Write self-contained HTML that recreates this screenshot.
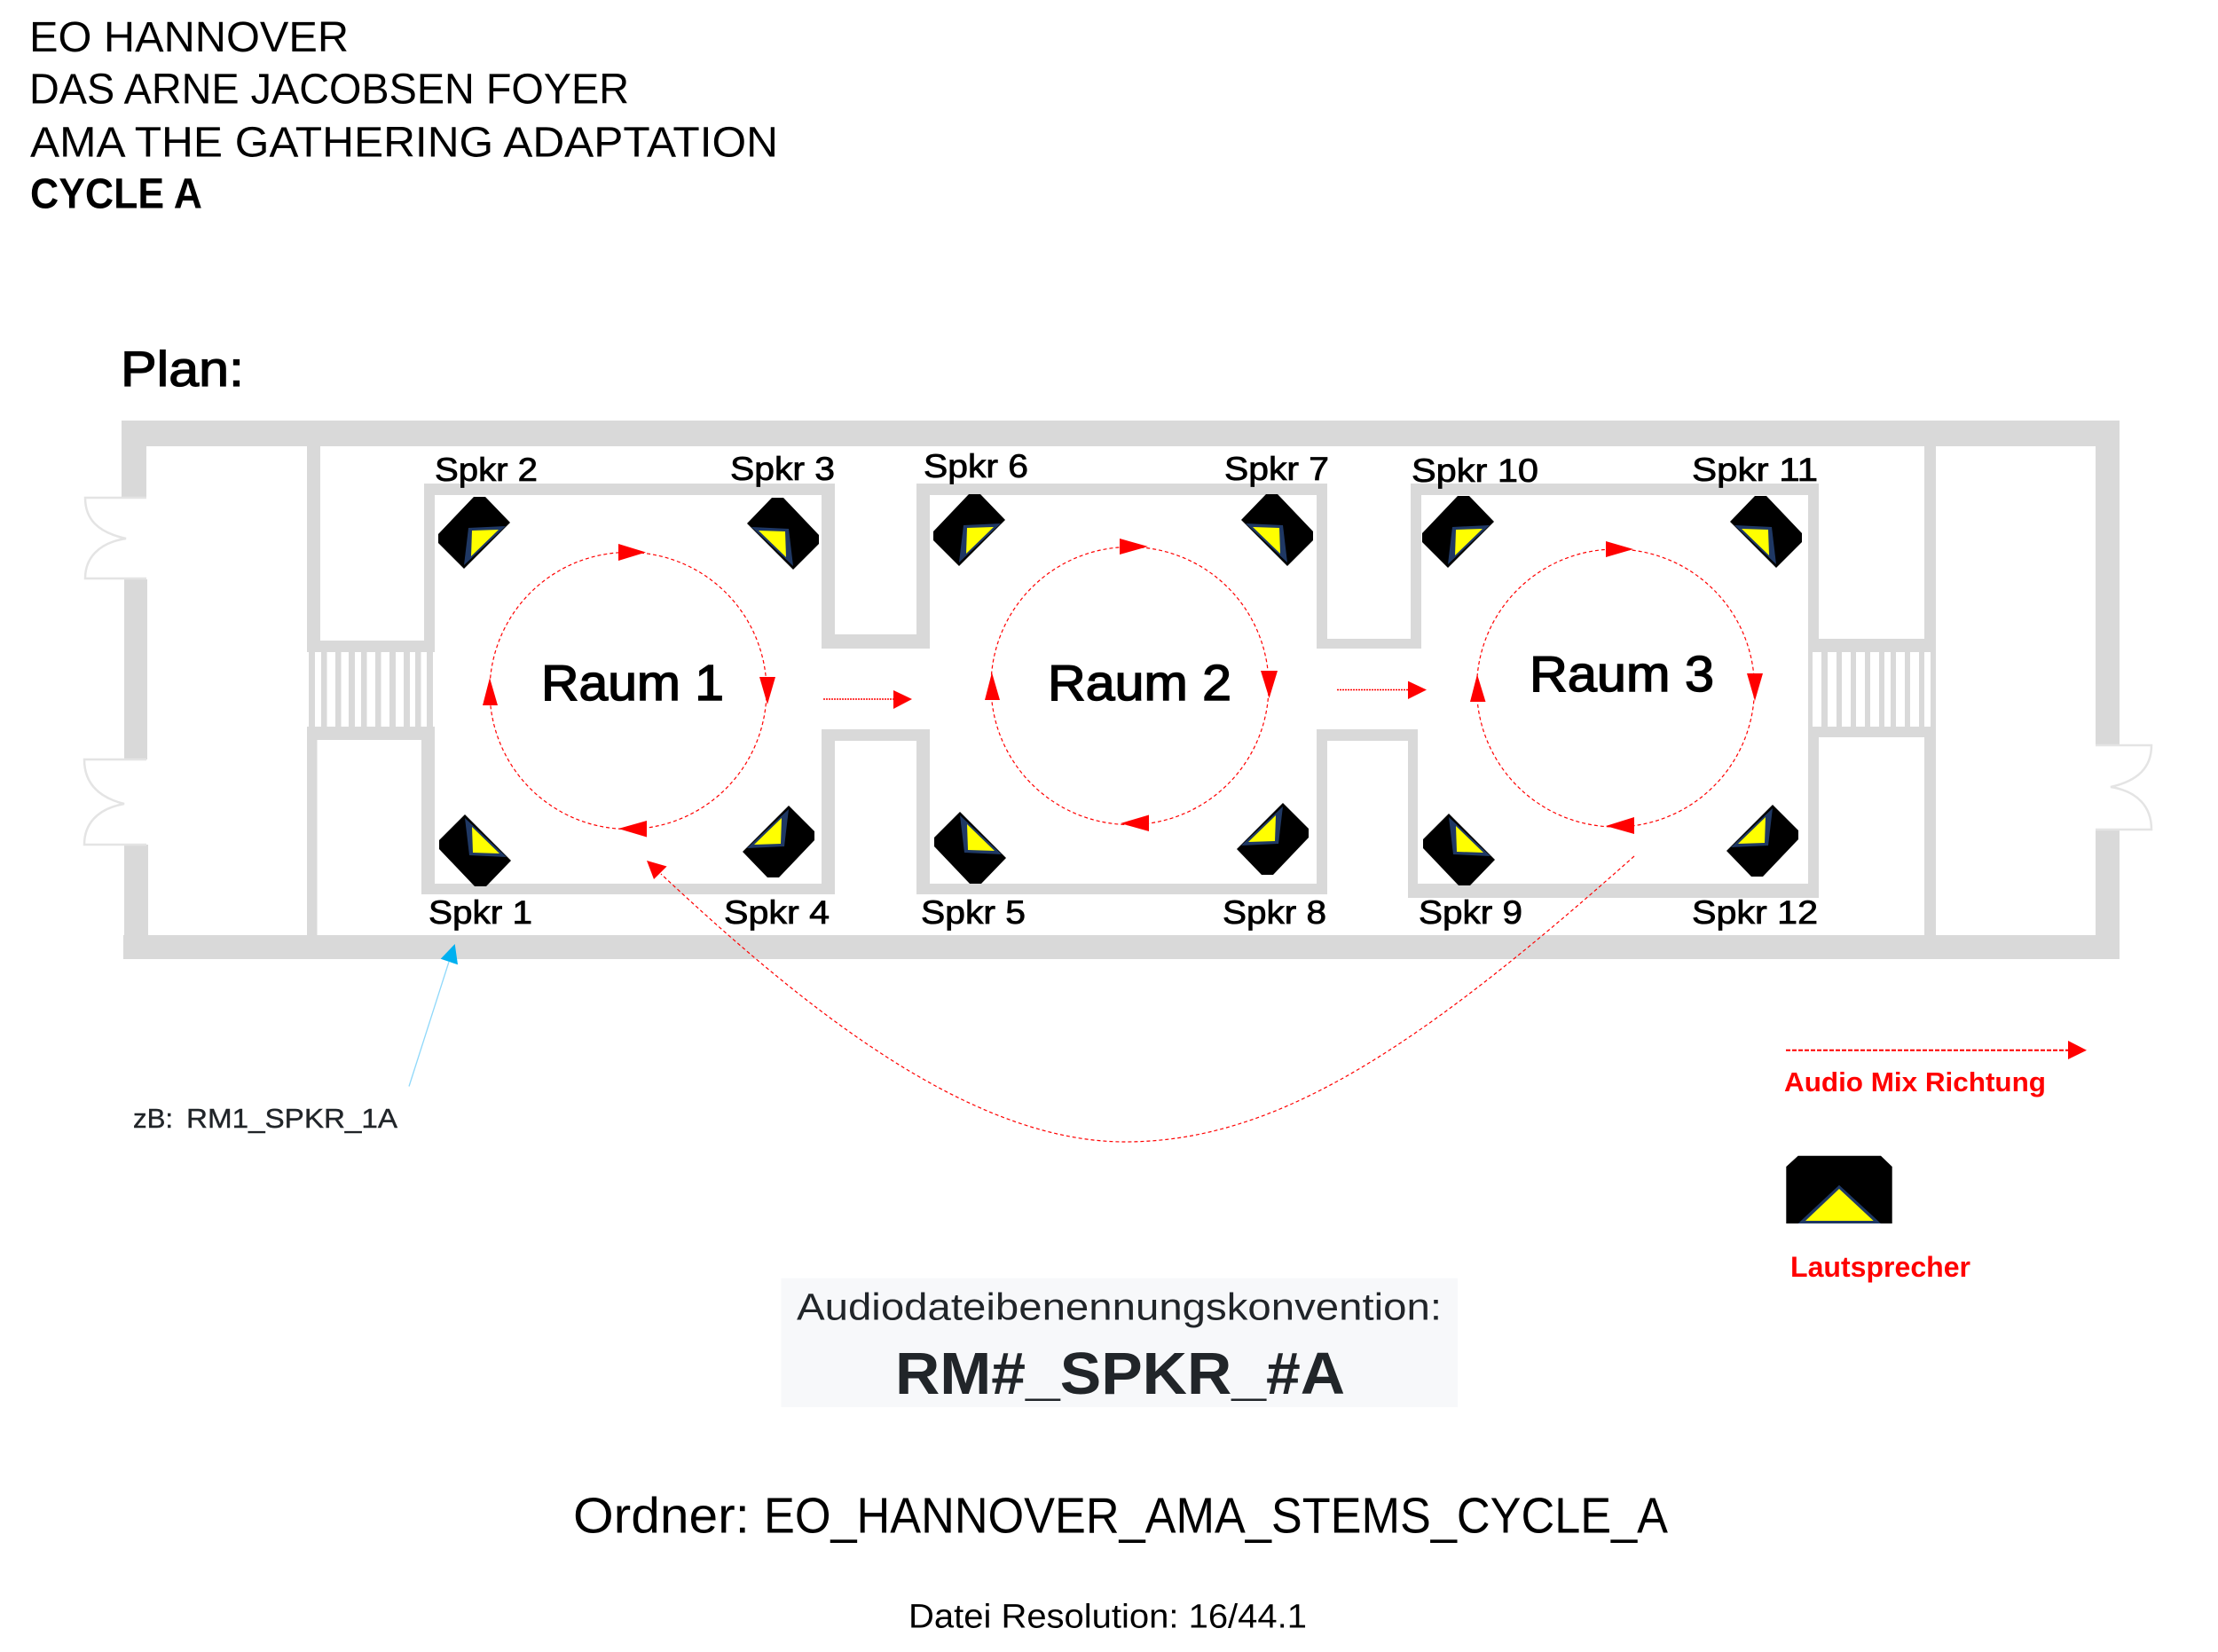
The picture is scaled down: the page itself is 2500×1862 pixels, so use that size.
<!DOCTYPE html>
<html lang="de">
<head>
<meta charset="utf-8">
<title>EO Hannover Plan</title>
<style>
html,body{margin:0;padding:0;background:#fff;width:2500px;height:1862px;overflow:hidden}
svg{display:block}
text{font-family:"Liberation Sans",sans-serif;white-space:pre}
.l{font-size:37px;fill:#000;stroke:#000;stroke-width:.8}
.r{font-size:57px;fill:#000;stroke:#000;stroke-width:1.5}
.h{font-size:48px;fill:#000}
.d{fill:none;stroke:#f00;stroke-width:1.2;stroke-dasharray:4 3}
.door{fill:none;stroke:#e4e4e4;stroke-width:2.5}
</style>
</head>
<body>
<svg width="2500" height="1862" viewBox="0 0 2500 1862" xmlns="http://www.w3.org/2000/svg">
<defs>
<g id="s">
<polygon points="40,0 53,0 81,29 29,81 0,52 0,42" fill="#000"/>
<polygon points="34,35 76,33 29,77" fill="#1f3864"/>
<polygon points="38,38 68,37 37,67" fill="#ff0"/>
</g>
</defs>

<text class="h" x="33" y="58" textLength="360" lengthAdjust="spacingAndGlyphs">EO HANNOVER</text>
<text class="h" x="33" y="116.5" textLength="676" lengthAdjust="spacingAndGlyphs">DAS ARNE JACOBSEN FOYER</text>
<text class="h" x="34" y="176.5" textLength="843" lengthAdjust="spacingAndGlyphs">AMA THE GATHERING ADAPTATION</text>
<text class="h" x="34" y="234.5" textLength="194" lengthAdjust="spacingAndGlyphs" font-weight="bold">CYCLE A</text>
<text x="136" y="435" font-size="56" textLength="139" lengthAdjust="spacingAndGlyphs" stroke="#000" stroke-width="1.3">Plan:</text>

<!-- walls -->
<g fill="#d9d9d9">
<rect x="137" y="474" width="2252" height="29"/>
<rect x="139" y="1054" width="2250" height="27"/>
<rect x="137" y="474" width="28" height="88"/>
<rect x="140" y="653" width="26" height="203"/>
<rect x="140" y="952" width="27" height="129"/>
<rect x="2362" y="474" width="27" height="365"/>
<rect x="2362" y="935" width="27" height="146"/>
<!-- left foyer wall + stairs -->
<rect x="346" y="503" width="15" height="232"/>
<rect x="346" y="722" width="144" height="13"/>
<rect x="346" y="819" width="144" height="15"/>
<rect x="346" y="834" width="11.5" height="220"/>
<rect x="348" y="735" width="7" height="84"/><rect x="362" y="735" width="6.5" height="84"/><rect x="378" y="735" width="6.5" height="84"/><rect x="393" y="735" width="7" height="84"/><rect x="407" y="735" width="6.5" height="84"/><rect x="423" y="735" width="6.5" height="84"/><rect x="439" y="735" width="7" height="84"/><rect x="455" y="735" width="7" height="84"/><rect x="468" y="735" width="6.5" height="84"/><rect x="481" y="735" width="7" height="84"/>
<!-- room 1 -->
<rect x="478" y="545" width="463" height="13"/>
<rect x="478" y="545" width="12" height="190"/>
<rect x="475" y="819" width="15" height="189"/>
<rect x="475" y="996" width="466" height="12"/>
<rect x="926" y="545" width="15" height="186"/>
<rect x="926" y="822" width="15" height="186"/>
<rect x="926" y="715" width="122" height="16"/>
<rect x="926" y="822" width="122" height="13"/>
<!-- room 2 -->
<rect x="1033" y="545" width="15" height="186"/>
<rect x="1033" y="822" width="15" height="186"/>
<rect x="1033" y="545" width="463" height="13"/>
<rect x="1033" y="996" width="463" height="12"/>
<rect x="1484" y="545" width="12" height="186"/>
<rect x="1484" y="822" width="12" height="186"/>
<rect x="1484" y="720" width="118" height="11"/>
<rect x="1484" y="822" width="114" height="13"/>
<!-- room 3 -->
<rect x="1590" y="545" width="12" height="186"/>
<rect x="1587" y="822" width="11" height="190"/>
<rect x="1590" y="545" width="460" height="13"/>
<rect x="1587" y="996" width="463" height="16"/>
<rect x="2038" y="545" width="12" height="190"/>
<rect x="2038" y="819" width="12" height="193"/>
<!-- right foyer wall + stairs -->
<rect x="2038" y="720" width="144" height="15"/>
<rect x="2038" y="819" width="144" height="12"/>
<rect x="2169" y="503" width="13" height="232"/>
<rect x="2169" y="819" width="13" height="235"/>
<rect x="2038" y="735" width="5" height="84"/><rect x="2053" y="735" width="7" height="84"/><rect x="2070" y="735" width="6" height="84"/><rect x="2086" y="735" width="6" height="84"/><rect x="2102" y="735" width="6" height="84"/><rect x="2118" y="735" width="6" height="84"/><rect x="2131" y="735" width="6" height="84"/><rect x="2147" y="735" width="6" height="84"/><rect x="2163" y="735" width="6" height="84"/><rect x="2176" y="735" width="6" height="84"/>
</g>

<!-- doors -->
<path class="door" d="M165 561H96C96 585 110 600 142 607C110 612 96 630 96 652H165"/>
<path class="door" d="M165 856H95C95 880 108 898 140 906C108 912 95 930 95 952H165"/>
<path class="door" d="M2362 840H2425C2425 865 2410 880 2379 887C2410 892 2425 910 2425 935H2362"/>

<!-- speakers -->
<use href="#s" transform="translate(494,560)"/>
<use href="#s" transform="translate(923,561) scale(-1,1)"/>
<use href="#s" transform="translate(495,999) scale(1,-1)"/>
<use href="#s" transform="translate(918,989) scale(-1,-1)"/>
<use href="#s" transform="translate(1052,557)"/>
<use href="#s" transform="translate(1480,557) scale(-1,1)"/>
<use href="#s" transform="translate(1053,996) scale(1,-1)"/>
<use href="#s" transform="translate(1475,986) scale(-1,-1)"/>
<use href="#s" transform="translate(1603,559)"/>
<use href="#s" transform="translate(2031,559) scale(-1,1)"/>
<use href="#s" transform="translate(1604,998) scale(1,-1)"/>
<use href="#s" transform="translate(2027,988) scale(-1,-1)"/>

<!-- speaker labels -->
<g>
<text class="l" x="490" y="542" textLength="116" lengthAdjust="spacingAndGlyphs">Spkr 2</text>
<text class="l" x="823" y="541" textLength="118" lengthAdjust="spacingAndGlyphs">Spkr 3</text>
<text class="l" x="483" y="1041" textLength="117" lengthAdjust="spacingAndGlyphs">Spkr 1</text>
<text class="l" x="816" y="1041" textLength="119" lengthAdjust="spacingAndGlyphs">Spkr 4</text>
<text class="l" x="1041" y="538" textLength="118" lengthAdjust="spacingAndGlyphs">Spkr 6</text>
<text class="l" x="1380" y="541" textLength="118" lengthAdjust="spacingAndGlyphs">Spkr 7</text>
<text class="l" x="1591" y="543" textLength="143" lengthAdjust="spacingAndGlyphs">Spkr 10</text>
<text class="l" x="1038" y="1041" textLength="118" lengthAdjust="spacingAndGlyphs">Spkr 5</text>
<text class="l" x="1378" y="1041" textLength="117" lengthAdjust="spacingAndGlyphs">Spkr 8</text>
<text class="l" x="1599" y="1041" textLength="117" lengthAdjust="spacingAndGlyphs">Spkr 9</text>
<text class="l" x="1907" y="542" textLength="142" lengthAdjust="spacingAndGlyphs">Spkr 11</text>
<text class="l" x="1907" y="1041" textLength="142" lengthAdjust="spacingAndGlyphs">Spkr 12</text>
</g>

<text class="r" x="610" y="789" textLength="206" lengthAdjust="spacingAndGlyphs">Raum 1</text>
<text class="r" x="1181" y="789" textLength="207" lengthAdjust="spacingAndGlyphs">Raum 2</text>
<text class="r" x="1724" y="779" textLength="208" lengthAdjust="spacingAndGlyphs">Raum 3</text>

<!-- circles -->
<circle class="d" cx="708" cy="778.5" r="156"/>
<circle class="d" cx="1273.5" cy="773" r="156.5"/>
<circle class="d" cx="1821" cy="775.5" r="156.5"/>
<g fill="#f00">
<polygon points="697,613 697,632 728,622.5"/>
<polygon points="856,763 874,763 865,794"/>
<polygon points="729,925 729,943.5 697,934"/>
<polygon points="552,764 544,795 561,795"/>
<polygon points="1262,607 1262,625 1294,616"/>
<polygon points="1421,756 1440,756 1430.6,787"/>
<polygon points="1295,918.5 1295,937 1263,928"/>
<polygon points="1118,758 1110,789 1127,789"/>
<polygon points="1810,610 1810,628 1841,619"/>
<polygon points="1969,759 1987,759 1978,790"/>
<polygon points="1842,921 1842,940 1810,931"/>
<polygon points="1665,760 1657,791 1674.5,791"/>
<polygon points="1007,778 1007,799 1028,788"/>
<polygon points="1587,767.6 1587,788 1608,777.5"/>
<polygon points="729,970 751.6,976.5 737,991"/>
<polygon points="2331,1173 2331,1194 2352,1183.7"/>
</g>
<path d="M928 788H1007M1507 777.5H1587" fill="none" stroke="#f00" stroke-width="1.5" stroke-dasharray="2 1"/>
<path class="d" d="M1842 965C1600 1180 1440 1287 1268 1287C1090 1287 900 1130 745 985"/>
<path d="M2013 1183.7H2331" fill="none" stroke="#f00" stroke-width="2" stroke-dasharray="5 2"/>

<!-- blue arrow -->
<line x1="461" y1="1224.5" x2="506" y2="1084" stroke="#8fd8fa" stroke-width="1.3"/>
<polygon points="512.7,1064 496.7,1080.7 516,1087.3" fill="#00b0f0"/>
<text x="150" y="1271" font-size="31" fill="#212529" stroke="#212529" stroke-width=".4" textLength="45" lengthAdjust="spacingAndGlyphs">zB:</text>
<text x="210" y="1271" font-size="31" fill="#212529" stroke="#212529" stroke-width=".4" textLength="238" lengthAdjust="spacingAndGlyphs">RM1_SPKR_1A</text>

<!-- legend -->
<text x="2011" y="1230" font-size="31" font-weight="bold" fill="#f00" textLength="295" lengthAdjust="spacingAndGlyphs">Audio Mix Richtung</text>
<polygon points="2013.3,1315 2026.7,1302.7 2120,1302.7 2132.7,1315 2132.7,1379 2013.3,1379" fill="#000"/>
<polygon points="2026.7,1379 2073,1335.7 2120,1379" fill="#1f3864"/>
<polygon points="2035,1376 2073,1340 2111.7,1376" fill="#ff0"/>
<text x="2018" y="1439" font-size="32" font-weight="bold" fill="#f00" textLength="203" lengthAdjust="spacingAndGlyphs">Lautsprecher</text>

<!-- naming box -->
<rect x="880.4" y="1440.7" width="762.6" height="145.3" fill="#f7f8fa"/>
<text x="898" y="1487.3" font-size="43" fill="#212529" textLength="727" lengthAdjust="spacingAndGlyphs">Audiodateibenennungskonvention:</text>
<text x="1009" y="1571" font-size="67" font-weight="bold" fill="#212529" textLength="507" lengthAdjust="spacingAndGlyphs">RM#_SPKR_#A</text>

<text x="646" y="1727.7" font-size="57" fill="#000" textLength="199" lengthAdjust="spacingAndGlyphs">Ordner:</text>
<text x="861" y="1727.7" font-size="57" fill="#000" textLength="1019" lengthAdjust="spacingAndGlyphs">EO_HANNOVER_AMA_STEMS_CYCLE_A</text>
<text x="1024" y="1834.7" font-size="38" fill="#000" textLength="449" lengthAdjust="spacingAndGlyphs">Datei Resolution: 16/44.1</text>
</svg>
</body>
</html>
